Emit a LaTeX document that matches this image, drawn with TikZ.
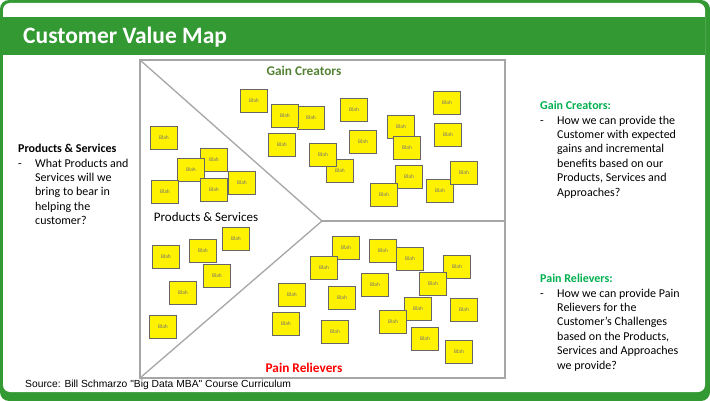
\documentclass[tikz,border=0pt]{standalone}
\usepackage{fontspec}
\setmainfont{Carlito}
\newfontfamily\arialfont{Liberation Sans}
\definecolor{barGreen}{RGB}{51,153,51}
\definecolor{headGreen}{RGB}{0,176,80}
\definecolor{gainGreen}{RGB}{84,130,53}
\newcommand{\bulletgap}{\hspace*{17pt}}
\newcommand{\dashgap}{\makebox[17pt][l]{-}}

\begin{document}
\begin{tikzpicture}[x=1pt, y=-1pt,
  note/.style={draw=black!60, fill=yellow, minimum width=27pt, minimum height=23pt,
    inner sep=0pt, font=\fontsize{5.5}{6}\selectfont, text=black!55},
  sidetext/.style={anchor=north west, inner sep=0pt, align=left,
    font=\fontsize{12}{14.4}\selectfont},
  frameline/.style={draw=gray!70, line width=1.3pt}]
  \useasboundingbox (0,0) rectangle (710,401);
  % Frame and title bar
  \fill[barGreen, rounded corners=9pt] (0,0) rectangle (710,401);
  \fill[white, rounded corners=7pt] (3,3) rectangle (705,392);
  \fill[barGreen] (3,17) rectangle (705,55);
  \node[anchor=west, inner sep=0pt, text=white, font=\fontsize{23.5}{26}\selectfont\bfseries]
    (title) at (23,37) {Customer Value Map};
  % Value map outline
  \coordinate (tl) at (140,60);
  \coordinate (br) at (505,378);
  \coordinate (bl) at (140,378);
  \coordinate (apex) at (322,221);
  \coordinate (mid) at (505,221);
  \draw[frameline] (tl) rectangle (br);
  \draw[frameline] (tl) -- (apex) -- (bl);
  \draw[frameline] (apex) -- (mid);
  % Sticky notes: gain creators
  \foreach \x/\y [count=\i] in {254/101, 447/103, 354/110, 311/118, 285/116,
      448/135, 401/127, 407/148, 363/142, 282/145, 340/171, 323/155,
      409/177, 384/195, 440/191, 464/173}
    \node[note] (gc\i) at (\x,\y) {Blah};
  % Sticky notes: products and services
  \foreach \x/\y [count=\i] in {164/138, 214/160, 191/170, 242/183, 214/190,
      165/192, 236/239, 203/251, 166/257, 217/276, 183/293, 163/327}
    \node[note] (ps\i) at (\x,\y) {Blah};
  % Sticky notes: pain relievers
  \foreach \x/\y [count=\i] in {346/248, 324/268, 383/251, 410/259, 457/267,
      375/285, 292/295, 342/298, 433/284, 418/309, 464/310, 393/322,
      286/324, 335/332, 425/339, 459/352}
    \node[note] (pr\i) at (\x,\y) {Blah};
  % Segment labels
  \node[text=gainGreen, font=\fontsize{13.3}{15}\selectfont\bfseries]
    (gclabel) at (304,71) {Gain Creators};
  \node[font=\fontsize{13}{15}\selectfont] (pslabel) at (206,217) {Products \& Services};
  \node[text=red, font=\fontsize{13.3}{15}\selectfont\bfseries]
    (prlabel) at (304,368) {Pain Relievers};
  % Side notes
  \node[sidetext] (pstext) at (18,144) {\textbf{Products \& Services}\\
    \dashgap What Products and\\ \bulletgap Services will we\\
    \bulletgap bring to bear in\\ \bulletgap helping the\\ \bulletgap customer?};
  \node[sidetext] (gctext) at (540,101) {\textcolor{headGreen}{\textbf{Gain Creators:}}\\
    \dashgap How we can provide the\\ \bulletgap Customer with expected\\
    \bulletgap gains and incremental\\ \bulletgap benefits based on our\\
    \bulletgap Products, Services and\\ \bulletgap Approaches?};
  \node[sidetext] (prtext) at (540,274) {\textcolor{headGreen}{\textbf{Pain Relievers:}}\\
    \dashgap How we can provide Pain\\ \bulletgap Relievers for the\\
    \bulletgap Customer’s Challenges\\ \bulletgap based on the Products,\\
    \bulletgap Services and Approaches\\ \bulletgap we provide?};
  % Source line
  \node[anchor=west, inner sep=0pt, font=\arialfont\fontsize{10.3}{12}\selectfont]
    (source) at (25,385) {Source: Bill Schmarzo "Big Data MBA" Course Curriculum};
\end{tikzpicture}
\end{document}
